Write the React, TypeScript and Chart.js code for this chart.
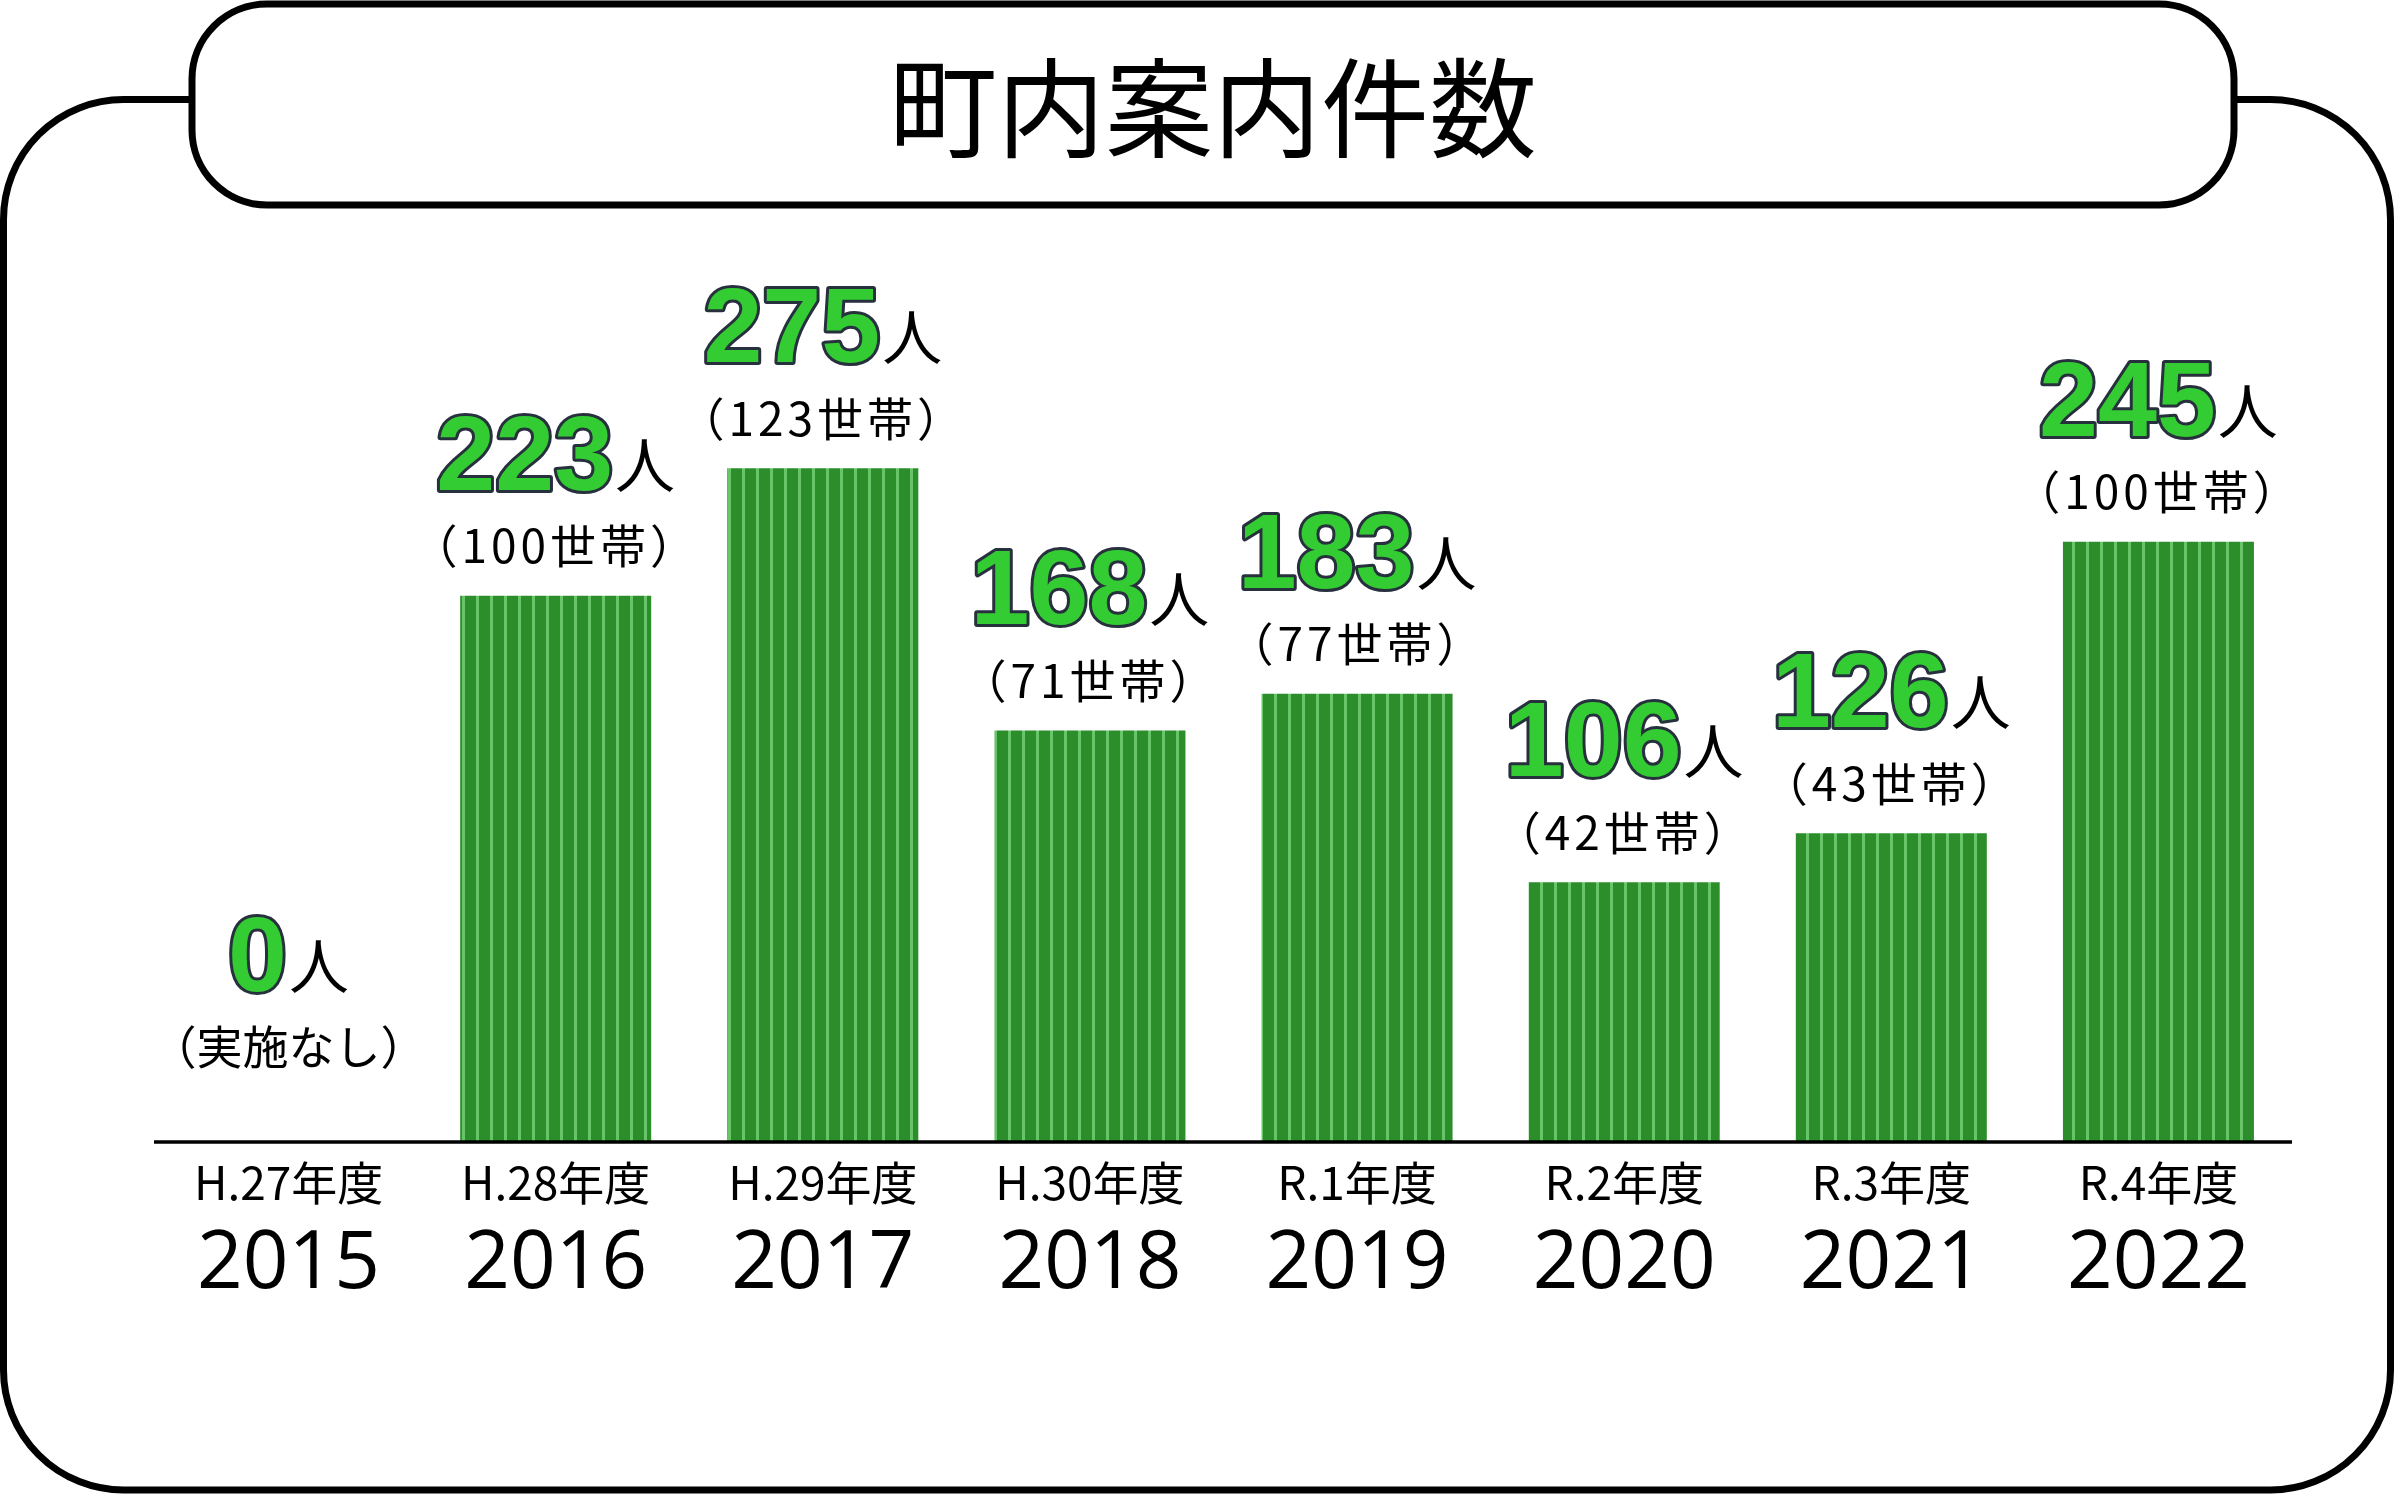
import { useEffect, useRef } from "react";
import { Chart, registerables } from "chart.js";

Chart.register(...registerables);

const titleText = "町内案内件数";
const eraLabels = ["H.27年度", "H.28年度", "H.29年度", "H.30年度", "R.1年度", "R.2年度", "R.3年度", "R.4年度"];
const yearLabels = ["2015", "2016", "2017", "2018", "2019", "2020", "2021", "2022"];
const peopleCounts = [0, 223, 275, 168, 183, 106, 126, 245];
const householdCounts: (number | null)[] = [null, 100, 123, 71, 77, 42, 43, 100];
const noEventText = "実施なし";
const peopleUnit = "人";
const householdUnit = "世帯";

const W = 2394;
const H = 1494;
const CJK = "'Noto Sans CJK JP', 'Noto Sans CJK SC', sans-serif";

function makePattern(ctx: CanvasRenderingContext2D) {
  const c = document.createElement("canvas");
  c.width = 14;
  c.height = 4;
  const g = c.getContext("2d")!;
  g.fillStyle = "#2b8e2b";
  g.fillRect(0, 0, 14, 4);
  g.fillStyle = "#68c468";
  g.fillRect(0, 0, 3, 4);
  return ctx.createPattern(c, "repeat")!;
}

const framePlugin = {
  id: "frame",
  beforeDraw(chart: any) {
    const ctx: CanvasRenderingContext2D = chart.ctx;
    ctx.save();
    ctx.fillStyle = "#ffffff";
    ctx.fillRect(0, 0, W, H);
    ctx.strokeStyle = "#000000";
    ctx.lineWidth = 7;
    // outer frame
    ctx.beginPath();
    (ctx as any).roundRect(3.5, 99.5, 2387, 1390.5, 120);
    ctx.stroke();
    // title box
    ctx.beginPath();
    (ctx as any).roundRect(192, 4, 2042, 201, 75);
    ctx.fillStyle = "#ffffff";
    ctx.fill();
    ctx.stroke();
    // title
    ctx.fillStyle = "#000000";
    ctx.font = `400 108px ${CJK}`;
    ctx.textAlign = "center";
    ctx.textBaseline = "middle";
    ctx.fillText(titleText, 1213, 108);
    ctx.restore();
  },
  afterDatasetsDraw(chart: any) {
    const ctx: CanvasRenderingContext2D = chart.ctx;
    const area = chart.chartArea;
    const xScale = chart.scales.x;
    const meta = chart.getDatasetMeta(0);
    ctx.save();
    // axis line
    ctx.strokeStyle = "#000000";
    ctx.lineWidth = 3.5;
    ctx.beginPath();
    ctx.moveTo(area.left - 1, area.bottom);
    ctx.lineTo(area.right, area.bottom);
    ctx.stroke();

    ctx.textAlign = "center";
    for (let i = 0; i < yearLabels.length; i++) {
      const x = xScale.getPixelForValue(i);
      ctx.fillStyle = "#000000";
      ctx.textBaseline = "alphabetic";
      ctx.font = `400 46px ${CJK}`;
      ctx.fillText(eraLabels[i], x, area.bottom + 58);
      ctx.font = "400 80px 'Open Sans', 'Noto Sans', sans-serif";
      ctx.fillText(yearLabels[i], x, area.bottom + 146);

      // value labels
      const bar = meta.data[i];
      const lift = peopleCounts[i] === 0 ? 45 : 0;
      const top = bar.y - lift;
      const numText = String(peopleCounts[i]);
      ctx.font = "700 106px 'Liberation Sans', Arial, sans-serif";
      const numW = ctx.measureText(numText).width;
      ctx.font = `400 60px ${CJK}`;
      const unitW = ctx.measureText(peopleUnit).width;
      const total = numW + 2 + unitW;
      const sx = bar.x - total / 2;
      const baseY = top - 106;
      ctx.textAlign = "left";
      ctx.textBaseline = "alphabetic";
      ctx.font = "700 106px 'Liberation Sans', Arial, sans-serif";
      ctx.lineJoin = "round";
      ctx.lineWidth = 6;
      ctx.strokeStyle = "#27313d";
      ctx.strokeText(numText, sx, baseY);
      ctx.fillStyle = "#33cc33";
      ctx.fillText(numText, sx, baseY);
      ctx.font = `400 60px ${CJK}`;
      ctx.fillStyle = "#000000";
      ctx.fillText(peopleUnit, sx + numW + 2, baseY - 2);

      const hh = householdCounts[i];
      const sub = hh === null ? `（${noEventText}）` : `（${hh}${householdUnit}）`;
      ctx.textAlign = "center";
      ctx.textBaseline = "middle";
      ctx.font = `400 46px ${CJK}`;
      (ctx as any).letterSpacing = hh === null ? "0px" : "4px";
      ctx.fillText(sub, bar.x, top - 50);
      (ctx as any).letterSpacing = "0px";
    }
    ctx.restore();
  },
};

export default function App() {
  const ref = useRef<HTMLCanvasElement | null>(null);
  useEffect(() => {
    const canvas = ref.current!;
    const ctx = canvas.getContext("2d")!;
    const pattern = makePattern(ctx);
    const chart = new Chart(canvas, {
      type: "bar",
      data: {
        labels: yearLabels,
        datasets: [
          {
            data: peopleCounts,
            backgroundColor: pattern as any,
            borderWidth: 0,
            barPercentage: 0.715,
            categoryPercentage: 1,
          },
        ],
      },
      options: {
        responsive: false,
        animation: false,
        devicePixelRatio: 1,
        layout: { padding: { left: 155, right: W - 2292, top: 162, bottom: H - 1142 } },
        scales: {
          x: { display: false },
          y: { display: false, min: 0, max: 400 },
        },
        plugins: { legend: { display: false }, tooltip: { enabled: false } },
      },
      plugins: [framePlugin],
    });
    if ((document as any).fonts && (document as any).fonts.ready) {
      (document as any).fonts.ready.then(() => chart.draw());
    }
    return () => chart.destroy();
  }, []);
  return (
    <div style={{ position: "fixed", left: 0, top: 0, width: W, height: H }}>
      <canvas ref={ref} width={W} height={H} style={{ display: "block", width: W, height: H }} />
    </div>
  );
}
